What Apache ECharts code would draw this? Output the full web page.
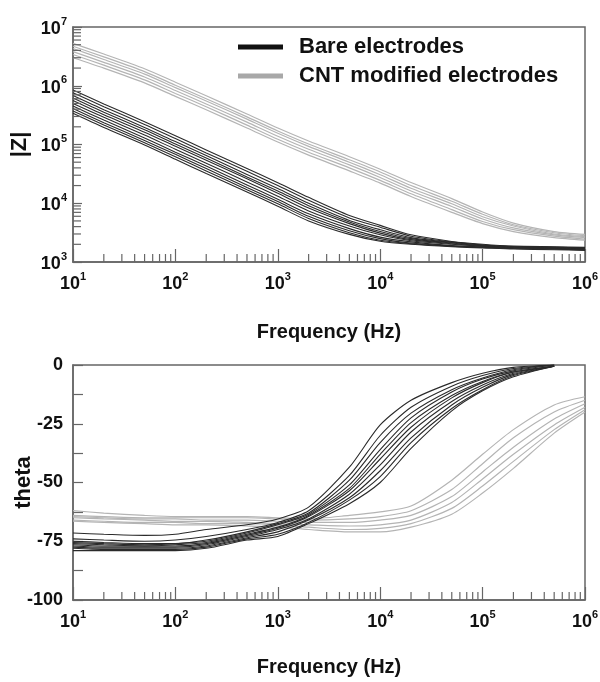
<!DOCTYPE html>
<html>
<head>
<meta charset="utf-8">
<script src="https://cdn.jsdelivr.net/npm/echarts@6/dist/echarts.min.js"></script>
<style>html,body{margin:0;padding:0;background:#fff;}#c{width:600px;height:682px;}</style>
</head>
<body>
<div id="c"></div>
<script>
// Frequency grid (Hz)
const freq = [10, 20, 50, 100, 200, 500, 1e3, 2e3, 5e3, 1e4, 2e4, 5e4, 1e5, 2e5, 5e5, 1e6];

// |Z| (ohm) - bare electrodes
const zBare1  = [8.5e5, 4.9e5, 2.45e5, 1.41e5, 8.1e4, 3.9e4, 2.24e4, 1.26e4, 6.2e3, 4.2e3, 2.9e3, 2.24e3, 2.0e3, 1.86e3, 1.82e3, 1.78e3];
const zBare2  = [7.6e5, 4.4e5, 2.2e5, 1.26e5, 7.2e4, 3.5e4, 2.0e4, 1.12e4, 5.6e3, 3.9e3, 2.75e3, 2.2e3, 1.95e3, 1.82e3, 1.78e3, 1.74e3];
const zBare3  = [6.8e5, 3.9e5, 1.95e5, 1.12e5, 6.5e4, 3.1e4, 1.78e4, 1.0e4, 5.1e3, 3.55e3, 2.6e3, 2.15e3, 1.95e3, 1.82e3, 1.78e3, 1.74e3];
const zBare4  = [6.2e5, 3.55e5, 1.78e5, 1.02e5, 5.9e4, 2.8e4, 1.62e4, 9.1e3, 4.8e3, 3.3e3, 2.5e3, 2.1e3, 1.9e3, 1.78e3, 1.74e3, 1.7e3];
const zBare5  = [5.6e5, 3.2e5, 1.62e5, 9.3e4, 5.4e4, 2.6e4, 1.48e4, 8.3e3, 4.5e3, 3.1e3, 2.4e3, 2.05e3, 1.86e3, 1.78e3, 1.74e3, 1.7e3];
const zBare6  = [5.0e5, 2.9e5, 1.45e5, 8.3e4, 4.8e4, 2.3e4, 1.32e4, 7.4e3, 4.1e3, 2.9e3, 2.3e3, 2.0e3, 1.86e3, 1.78e3, 1.74e3, 1.7e3];
const zBare7  = [4.5e5, 2.6e5, 1.29e5, 7.4e4, 4.3e4, 2.05e4, 1.17e4, 6.6e3, 3.7e3, 2.65e3, 2.2e3, 1.9e3, 1.82e3, 1.74e3, 1.7e3, 1.66e3];
const zBare8  = [4.1e5, 2.35e5, 1.17e5, 6.8e4, 3.9e4, 1.86e4, 1.07e4, 6.0e3, 3.4e3, 2.5e3, 2.1e3, 1.86e3, 1.78e3, 1.7e3, 1.66e3, 1.62e3];
const zBare9  = [3.7e5, 2.15e5, 1.07e5, 6.2e4, 3.55e4, 1.7e4, 9.8e3, 5.5e3, 3.15e3, 2.35e3, 2.05e3, 1.86e3, 1.78e3, 1.7e3, 1.66e3, 1.62e3];
const zBare10 = [3.4e5, 1.95e5, 9.8e4, 5.6e4, 3.2e4, 1.55e4, 8.9e3, 5.0e3, 2.95e3, 2.25e3, 2.0e3, 1.82e3, 1.74e3, 1.66e3, 1.62e3, 1.58e3];

// |Z| (ohm) - CNT modified electrodes
const zCnt1 = [5.25e6, 3.47e6, 1.95e6, 1.15e6, 6.76e5, 3.31e5, 1.91e5, 1.15e5, 6.2e4, 3.8e4, 2.25e4, 1.2e4, 7.1e3, 4.6e3, 3.3e3, 2.95e3];
const zCnt2 = [4.7e6, 3.1e6, 1.74e6, 1.02e6, 6.0e5, 2.95e5, 1.7e5, 1.02e5, 5.5e4, 3.4e4, 2.0e4, 1.08e4, 6.5e3, 4.3e3, 3.15e3, 2.8e3];
const zCnt3 = [4.3e6, 2.8e6, 1.58e6, 9.3e5, 5.5e5, 2.7e5, 1.55e5, 9.3e4, 5.0e4, 3.05e4, 1.8e4, 9.8e3, 5.9e3, 4.1e3, 3.0e3, 2.7e3];
const zCnt4 = [3.8e6, 2.5e6, 1.41e6, 8.3e5, 4.9e5, 2.4e5, 1.38e5, 8.3e4, 4.5e4, 2.75e4, 1.62e4, 8.8e3, 5.4e3, 3.8e3, 2.9e3, 2.6e3];
const zCnt5 = [3.4e6, 2.24e6, 1.26e6, 7.4e5, 4.4e5, 2.14e5, 1.23e5, 7.4e4, 4.0e4, 2.45e4, 1.45e4, 7.8e3, 4.9e3, 3.55e3, 2.75e3, 2.45e3];
const zCnt6 = [3.0e6, 2.0e6, 1.12e6, 6.6e5, 3.9e5, 1.91e5, 1.1e5, 6.6e4, 3.55e4, 2.2e4, 1.3e4, 7.0e3, 4.5e3, 3.3e3, 2.6e3, 2.35e3];

// theta (deg) - bare electrodes
const tBare1  = [-71.5, -72, -72.5, -72, -70, -68, -65.5, -60.5, -43.5, -25.5, -15, -7.5, -3.5, -1, 0, null];
const tBare2  = [-74, -74.5, -75, -74.5, -73, -70, -67, -62, -47, -30, -18, -9, -4.5, -1.5, 0, null];
const tBare3  = [-75, -75.5, -76, -76, -74.5, -71, -67.5, -63, -49, -33, -20.5, -10.5, -5.5, -2, 0, null];
const tBare4  = [-75.5, -76, -76.5, -76, -75, -71.5, -68, -63.5, -51, -36, -22.5, -11.5, -6, -2.5, 0, null];
const tBare5  = [-76, -76.5, -77, -76.5, -75.5, -72, -69, -64, -52.5, -38, -24.5, -13, -7, -3, -0.5, null];
const tBare6  = [-76.5, -77, -77, -77, -76, -72.5, -69.5, -64.5, -53.5, -40, -26.5, -14, -7.5, -3, -0.5, null];
const tBare7  = [-77, -77.5, -77.5, -77.5, -76.5, -73, -70, -65.5, -55, -42.5, -28.5, -15.5, -8.5, -3.5, -0.5, null];
const tBare8  = [-77.5, -78, -78, -78, -77, -73.5, -71, -66, -56.5, -45, -31, -17, -9.5, -4, -0.5, null];
const tBare9  = [-78, -78.5, -78.5, -78.5, -77.5, -74, -72, -67, -57.5, -47.5, -33, -18.5, -10.5, -4.5, -0.5, null];
const tBare10 = [-79, -79, -79, -79, -78, -74.5, -73, -67.5, -59, -50, -35.5, -19.5, -11, -5, -0.5, null];

// theta (deg) - CNT modified electrodes
const tCnt1 = [-62, -63, -64, -64.5, -64.5, -64.5, -65, -65.5, -64, -62.5, -60, -49, -38, -27.5, -17, -13.5];
const tCnt2 = [-64, -64.5, -65, -65, -65, -65, -65.5, -66, -65.5, -64.5, -62, -53, -42, -31, -20, -15];
const tCnt3 = [-64.5, -65, -65.5, -65.5, -66, -66, -66.5, -67, -67, -66, -64, -56, -45.5, -35, -23, -16.5];
const tCnt4 = [-65, -65.5, -66, -66.5, -66.5, -67, -67.5, -68, -68.5, -68, -66, -58.5, -48.5, -38, -25.5, -18];
const tCnt5 = [-66, -66.5, -67, -67, -67.5, -67.5, -68, -69, -70, -69.5, -67.5, -61, -51.5, -41, -27.5, -19];
const tCnt6 = [-66.5, -67, -67.5, -68, -68, -68.5, -69, -70, -71, -71, -69, -63.5, -54.5, -44, -29, -20];

// Axis tick values
const freqMinorTicks = [20,30,40,50,60,70,80,90, 200,300,400,500,600,700,800,900, 2e3,3e3,4e3,5e3,6e3,7e3,8e3,9e3, 2e4,3e4,4e4,5e4,6e4,7e4,8e4,9e4, 2e5,3e5,4e5,5e5,6e5,7e5,8e5,9e5];
const zMinorTicks = [2e3,3e3,4e3,5e3,6e3,7e3,8e3,9e3, 2e4,3e4,4e4,5e4,6e4,7e4,8e4,9e4, 2e5,3e5,4e5,5e5,6e5,7e5,8e5,9e5, 2e6,3e6,4e6,5e6,6e6,7e6,8e6,9e6];

const zBare = [zBare1, zBare2, zBare3, zBare4, zBare5, zBare6, zBare7, zBare8, zBare9, zBare10];
const zCnt = [zCnt1, zCnt2, zCnt3, zCnt4, zCnt5, zCnt6];
const tBare = [tBare1, tBare2, tBare3, tBare4, tBare5, tBare6, tBare7, tBare8, tBare9, tBare10];
const tCnt = [tCnt1, tCnt2, tCnt3, tCnt4, tCnt5, tCnt6];

const FONT = '"Liberation Sans", Arial, sans-serif';
const AXIS_COLOR = '#666';
const BARE = 'Bare electrodes', CNT = 'CNT modified electrodes';

function pairs(arr) { return freq.map((f, i) => [f, arr[i]]); }
function lineSeries(name, arr, xi, color, w) {
  return { type: 'line', name: name, xAxisIndex: xi, yAxisIndex: xi, data: pairs(arr),
    showSymbol: false, smooth: 0.25, connectNulls: false, silent: true,
    lineStyle: { color: color, width: w }, itemStyle: { color: color }, z: 3 };
}
const powLabel = v => '{b|10}{s|' + Math.round(Math.log10(v)) + '}';
const rich = {
  b: { fontFamily: FONT, fontSize: 18, fontWeight: 'bold', color: '#111', lineHeight: 22, verticalAlign: 'bottom' },
  s: { fontFamily: FONT, fontSize: 11, fontWeight: 'bold', color: '#111', lineHeight: 12, verticalAlign: 'top' }
};
function xTickSeries(xi, yBase, len, vals) {
  return { type: 'custom', xAxisIndex: xi, yAxisIndex: xi, silent: true, z: 5,
    data: vals.map(v => [v, yBase]),
    renderItem: (params, api) => {
      const p = api.coord([api.value(0), api.value(1)]);
      return { type: 'line', shape: { x1: p[0], y1: p[1], x2: p[0], y2: p[1] - len },
        style: { stroke: AXIS_COLOR, lineWidth: 1.2 } };
    } };
}
function yTickSeries(xi, xBase, len, vals) {
  return { type: 'custom', xAxisIndex: xi, yAxisIndex: xi, silent: true, z: 5,
    data: vals.map(v => [xBase, v]),
    renderItem: (params, api) => {
      const p = api.coord([api.value(0), api.value(1)]);
      return { type: 'line', shape: { x1: p[0], y1: p[1], x2: p[0] + len, y2: p[1] },
        style: { stroke: AXIS_COLOR, lineWidth: 1.2 } };
    } };
}

const series = [];
zCnt.forEach(a => series.push(lineSeries(CNT, a, 0, '#b4b4b4', 1.2)));
zBare.forEach(a => series.push(lineSeries(BARE, a, 0, '#2a2a2a', 1.1)));
tCnt.forEach(a => series.push(lineSeries(CNT, a, 1, '#b4b4b4', 1.2)));
tBare.forEach(a => series.push(lineSeries(BARE, a, 1, '#2a2a2a', 1.1)));
series.push(xTickSeries(0, 1e3, 8, freqMinorTicks));
series.push(xTickSeries(1, -100, 8, freqMinorTicks));
series.push(yTickSeries(0, 10, 8, zMinorTicks));

const xAxisBase = (gi, gap) => ({
  type: 'log', logBase: 10, min: 10, max: 1e6, gridIndex: gi, position: 'bottom',
  name: 'Frequency (Hz)', nameLocation: 'middle', nameGap: gap, nameMoveOverlap: false,
  nameTextStyle: { fontFamily: FONT, fontSize: 20, fontWeight: 'bold', color: '#111' },
  axisLine: { show: true, onZero: false, lineStyle: { color: AXIS_COLOR, width: 1.5 } },
  axisTick: { show: true, inside: true, length: 13, lineStyle: { color: AXIS_COLOR, width: 1.2 } },
  splitLine: { show: false }, minorTick: { show: false },
  axisLabel: { formatter: powLabel, rich: rich, margin: 9 }
});

const option = {
  animation: false,
  backgroundColor: '#fff',
  grid: [
    { left: 73, right: 15, top: 27, height: 235, show: true, borderColor: AXIS_COLOR, borderWidth: 1.5, containLabel: false, outerBoundsMode: 'none' },
    { left: 73, right: 15, top: 365, height: 235, show: true, borderColor: AXIS_COLOR, borderWidth: 1.5, containLabel: false, outerBoundsMode: 'none' }
  ],
  legend: {
    orient: 'vertical', left: 233, top: 31, itemWidth: 45, itemHeight: 5, itemGap: 7,
    data: [ { name: BARE, icon: 'rect', itemStyle: { color: '#111' } },
            { name: CNT, icon: 'rect', itemStyle: { color: '#a8a8a8' } } ],
    textStyle: { fontFamily: FONT, fontSize: 22, fontWeight: 'bold', color: '#111', lineHeight: 22, padding: [0, 0, 0, 11] },
    selectedMode: false
  },
  xAxis: [ xAxisBase(0, 60), xAxisBase(1, 57) ],
  yAxis: [
    { type: 'log', logBase: 10, min: 1e3, max: 1e7, gridIndex: 0, position: 'left',
      name: '|Z|', nameLocation: 'middle', nameGap: 42, nameMoveOverlap: false,
      nameTextStyle: { fontFamily: FONT, fontSize: 22, fontWeight: 'bold', color: '#111' },
      axisLine: { show: true, onZero: false, lineStyle: { color: AXIS_COLOR, width: 1.5 } },
      axisTick: { show: true, inside: true, length: 9, lineStyle: { color: AXIS_COLOR, width: 1.2 } },
      splitLine: { show: false },
      axisLabel: { formatter: powLabel, rich: rich, margin: 6 } },
    { type: 'value', min: -100, max: 0, interval: 25, gridIndex: 1, position: 'left',
      name: 'theta', nameLocation: 'middle', nameGap: 38, nameMoveOverlap: false,
      nameTextStyle: { fontFamily: FONT, fontSize: 22, fontWeight: 'bold', color: '#111' },
      axisLine: { show: true, onZero: false, lineStyle: { color: AXIS_COLOR, width: 1.5 } },
      axisTick: { show: true, inside: true, length: 10, lineStyle: { color: AXIS_COLOR, width: 1.2 } },
      minorTick: { show: true, splitNumber: 2, length: 10, lineStyle: { color: AXIS_COLOR, width: 1.2 } },
      splitLine: { show: false },
      axisLabel: { fontFamily: FONT, fontSize: 18, fontWeight: 'bold', color: '#111', margin: 10 } }
  ],
  series: series
};

const chart = echarts.init(document.getElementById('c'), null, { renderer: 'canvas' });
chart.setOption(option);
</script>
</body>
</html>
